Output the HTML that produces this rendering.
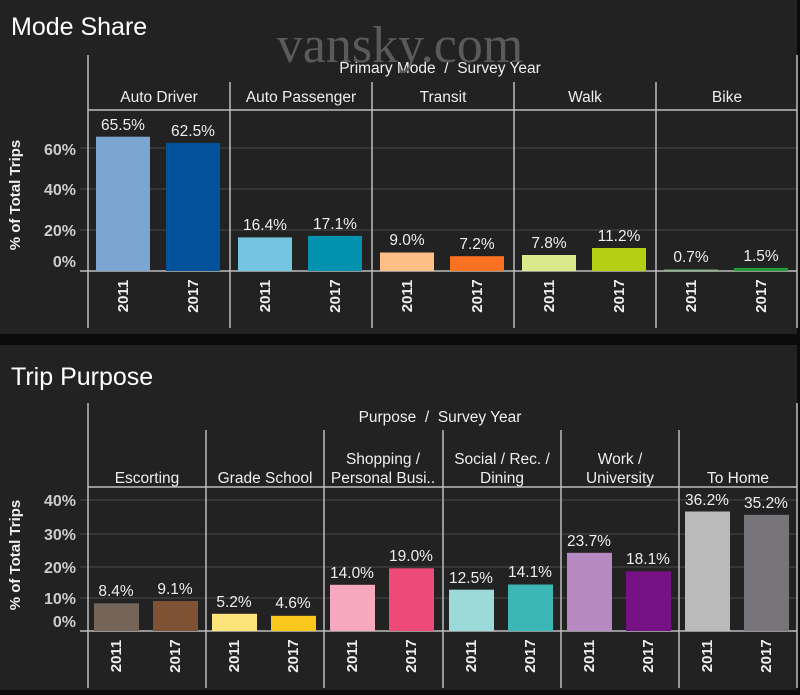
<!DOCTYPE html>
<html><head><meta charset="utf-8"><style>
html,body{margin:0;padding:0;background:#0b0b0b;}
svg{display:block;font-family:"Liberation Sans",Arial,sans-serif;}
.t{fill:#fff;font-size:25px;}
.h{fill:#eee;font-size:15.5px;}
.v{fill:#eee;font-size:15.5px;text-anchor:middle;}
.y{fill:#eee;font-size:15px;font-weight:bold;}
.ax{stroke:#bdbdbd;stroke-width:1.5;fill:none;}
.g{stroke:#4a4a4a;stroke-width:1;}
</style></head><body>
<svg width="800" height="695" viewBox="0 0 800 695">
<rect x="0" y="0" width="797" height="334" fill="#222"/>
<rect x="0" y="345" width="797" height="345" fill="#222"/>
<!-- TOP -->
<text class="t" x="11" y="35">Mode Share</text>
<g class="g"><line x1="80" y1="230" x2="797" y2="230"/><line x1="80" y1="189" x2="797" y2="189"/><line x1="80" y1="148" x2="797" y2="148"/></g>
<g fill="#ccc" font-size="16" text-anchor="end" font-weight="bold"><text x="76" y="155">60%</text><text x="76" y="195">40%</text><text x="76" y="236">20%</text><text x="76" y="267">0%</text></g>
<text class="y" transform="translate(20,195) rotate(-90)" text-anchor="middle" font-size="14.5" fill="#ddd">% of Total Trips</text>
<text class="h" x="440" y="73" text-anchor="middle">Primary Mode&#160;&#160;/&#160;&#160;Survey Year</text>
<g class="ax"><line x1="88" y1="55" x2="88" y2="328"/><line x1="797" y1="55" x2="797" y2="328"/>
<line x1="230" y1="82" x2="230" y2="328"/><line x1="372" y1="82" x2="372" y2="328"/><line x1="514" y1="82" x2="514" y2="328"/><line x1="656" y1="82" x2="656" y2="328"/>
<line x1="88" y1="110" x2="797" y2="110"/><line x1="80" y1="271" x2="797" y2="271"/></g>
<g class="h" text-anchor="middle"><text x="159" y="102">Auto Driver</text><text x="301" y="102">Auto Passenger</text><text x="443" y="102">Transit</text><text x="585" y="102">Walk</text><text x="727" y="102">Bike</text></g>
<rect x="96" y="136.7" width="54" height="134.3" fill="#7aa6d1"/><rect x="166" y="142.9" width="54" height="128.1" fill="#02529c"/>
<rect x="238" y="237.4" width="54" height="33.6" fill="#74c6e0"/><rect x="308" y="235.9" width="54" height="35.1" fill="#0391b0"/>
<rect x="380" y="252.5" width="54" height="18.5" fill="#fdbf85"/><rect x="450" y="256.2" width="54" height="14.8" fill="#fa7221"/>
<rect x="522" y="255" width="54" height="16" fill="#d9e98c"/><rect x="592" y="248" width="54" height="23" fill="#b3d012"/>
<rect x="664" y="269.6" width="54" height="1.4" fill="#85c28a"/><rect x="734" y="267.9" width="54" height="3.1" fill="#239c3a"/>
<g class="v"><text x="123" y="130">65.5%</text><text x="193" y="136">62.5%</text><text x="265" y="230">16.4%</text><text x="335" y="229">17.1%</text><text x="407" y="245">9.0%</text><text x="477" y="249">7.2%</text><text x="549" y="248">7.8%</text><text x="619" y="241">11.2%</text><text x="691" y="262">0.7%</text><text x="761" y="261">1.5%</text></g>
<g class="y" text-anchor="middle">
<text transform="translate(128,296) rotate(-90)">2011</text><text transform="translate(198,296) rotate(-90)">2017</text>
<text transform="translate(270,296) rotate(-90)">2011</text><text transform="translate(340,296) rotate(-90)">2017</text>
<text transform="translate(412,296) rotate(-90)">2011</text><text transform="translate(482,296) rotate(-90)">2017</text>
<text transform="translate(554,296) rotate(-90)">2011</text><text transform="translate(624,296) rotate(-90)">2017</text>
<text transform="translate(696,296) rotate(-90)">2011</text><text transform="translate(766,296) rotate(-90)">2017</text></g>
<text x="400" y="62" text-anchor="middle" font-family="Liberation Serif,serif" font-size="52" fill="#5a5a5a">vansky.com</text>
<!-- BOTTOM -->
<text class="t" x="11" y="385">Trip Purpose</text>
<g class="g"><line x1="80" y1="500" x2="797" y2="500"/><line x1="80" y1="534" x2="797" y2="534"/><line x1="80" y1="567" x2="797" y2="567"/><line x1="80" y1="598" x2="797" y2="598"/></g>
<g fill="#ccc" font-size="16" text-anchor="end" font-weight="bold"><text x="76" y="506">40%</text><text x="76" y="540">30%</text><text x="76" y="573">20%</text><text x="76" y="604">10%</text><text x="76" y="627">0%</text></g>
<text class="y" transform="translate(20,555) rotate(-90)" text-anchor="middle" font-size="14.5" fill="#ddd">% of Total Trips</text>
<text class="h" x="440" y="422" text-anchor="middle">Purpose&#160;&#160;/&#160;&#160;Survey Year</text>
<g class="ax"><line x1="88" y1="403" x2="88" y2="688"/><line x1="797" y1="403" x2="797" y2="688"/>
<line x1="206" y1="430" x2="206" y2="688"/><line x1="324" y1="430" x2="324" y2="688"/><line x1="443" y1="430" x2="443" y2="688"/><line x1="561" y1="430" x2="561" y2="688"/><line x1="679" y1="430" x2="679" y2="688"/>
<line x1="88" y1="487" x2="797" y2="487"/><line x1="80" y1="631" x2="797" y2="631"/></g>
<g class="h" text-anchor="middle"><text x="147" y="483">Escorting</text><text x="265" y="483">Grade School</text><text x="383" y="464">Shopping /</text><text x="383" y="483">Personal Busi..</text><text x="502" y="464">Social / Rec. /</text><text x="502" y="483">Dining</text><text x="620" y="464">Work /</text><text x="620" y="483">University</text><text x="738" y="483">To Home</text></g>
<rect x="94" y="603.3" width="45" height="27.7" fill="#756559"/><rect x="153" y="601" width="45" height="30" fill="#7f5235"/>
<rect x="212" y="613.8" width="45" height="17.2" fill="#fde47a"/><rect x="271" y="615.8" width="45" height="15.2" fill="#f9c81a"/>
<rect x="330" y="584.8" width="45" height="46.2" fill="#f6a9be"/><rect x="389" y="568.3" width="45" height="62.7" fill="#ed4a78"/>
<rect x="449" y="589.7" width="45" height="41.3" fill="#9bdad9"/><rect x="508" y="584.5" width="45" height="46.5" fill="#3cb7b5"/>
<rect x="567" y="552.8" width="45" height="78.2" fill="#b689c0"/><rect x="626" y="571.3" width="45" height="59.7" fill="#761283"/>
<rect x="685" y="511.5" width="45" height="119.5" fill="#bababa"/><rect x="744" y="514.8" width="45" height="116.2" fill="#777579"/>
<g class="v"><text x="116" y="596">8.4%</text><text x="175" y="594">9.1%</text><text x="234" y="607">5.2%</text><text x="293" y="608">4.6%</text><text x="352" y="578">14.0%</text><text x="411" y="561">19.0%</text><text x="471" y="583">12.5%</text><text x="530" y="577">14.1%</text><text x="589" y="546">23.7%</text><text x="648" y="564">18.1%</text><text x="707" y="505">36.2%</text><text x="766" y="508">35.2%</text></g>
<g class="y" text-anchor="middle">
<text transform="translate(121,656) rotate(-90)">2011</text><text transform="translate(180,656) rotate(-90)">2017</text>
<text transform="translate(239,656) rotate(-90)">2011</text><text transform="translate(298,656) rotate(-90)">2017</text>
<text transform="translate(357,656) rotate(-90)">2011</text><text transform="translate(416,656) rotate(-90)">2017</text>
<text transform="translate(476,656) rotate(-90)">2011</text><text transform="translate(535,656) rotate(-90)">2017</text>
<text transform="translate(594,656) rotate(-90)">2011</text><text transform="translate(653,656) rotate(-90)">2017</text>
<text transform="translate(712,656) rotate(-90)">2011</text><text transform="translate(771,656) rotate(-90)">2017</text></g>
</svg>
</body></html>
